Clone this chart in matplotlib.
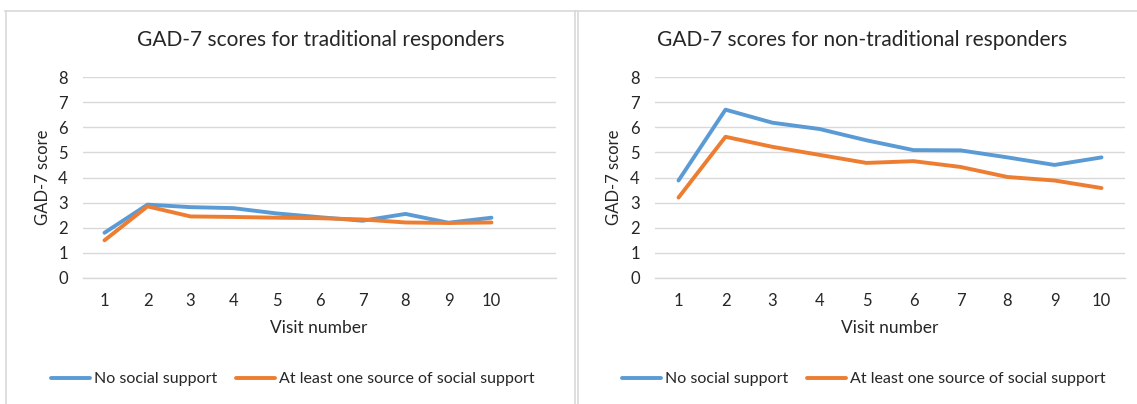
import matplotlib
matplotlib.use("Agg")
import matplotlib.pyplot as plt
from matplotlib.lines import Line2D

plt.rcParams['font.family'] = ['Lato', 'DejaVu Sans']

visits = ['1', '2', '3', '4', '5', '6', '7', '8', '9', '10']
trad_no_support = [1.8, 2.92, 2.82, 2.78, 2.57, 2.42, 2.28, 2.55, 2.2, 2.4]
trad_support = [1.5, 2.85, 2.45, 2.43, 2.4, 2.38, 2.33, 2.21, 2.19, 2.21]
nontrad_no_support = [3.88, 6.7, 6.18, 5.93, 5.48, 5.09, 5.08, 4.8, 4.5, 4.8]
nontrad_support = [3.2, 5.62, 5.22, 4.9, 4.58, 4.65, 4.42, 4.02, 3.88, 3.58]

series_labels = ['No social support', 'At least one source of social support']
titles = ['GAD-7 scores for traditional responders',
          'GAD-7 scores for non-traditional responders']
y_ticks = [0, 1, 2, 3, 4, 5, 6, 7, 8]

BLUE = '#5B9BD5'
ORANGE = '#ED7D31'
GRID = '#D9D9D9'
TXT = '#262626'

W, H = 1137, 404
fig = plt.figure(figsize=(W / 100, H / 100), dpi=100)

def fx(px):
    return px / W

def fy(py):
    return 1 - py / H

# panel borders
for xp in (5.5, 574.5, 577.5):
    fig.add_artist(Line2D([fx(xp), fx(xp)], [fy(10.5), 0], color=GRID, lw=1.2,
                          transform=fig.transFigure))
fig.add_artist(Line2D([fx(5), 1], [fy(10.5), fy(10.5)], color=GRID, lw=1.2,
                      transform=fig.transFigure))

panels = [
    dict(left=83, right=556, ncat=11, data=(trad_no_support, trad_support),
         title_x=321, xlabel_x=319, leg_x=293, ylab_x=43),
    dict(left=655, right=1125, ncat=10, data=(nontrad_no_support, nontrad_support),
         title_x=862, xlabel_x=890, leg_x=864, ylab_x=614),
]

top_px, bot_px = 77, 278
for i, p in enumerate(panels):
    ax = fig.add_axes([fx(p['left']), fy(bot_px), fx(p['right'] - p['left']),
                       (bot_px - top_px) / H])
    x = list(range(len(visits)))
    l1, = ax.plot(x, p['data'][0], color=BLUE, lw=2.8, solid_capstyle='round',
                  solid_joinstyle='round', label=series_labels[0])
    l2, = ax.plot(x, p['data'][1], color=ORANGE, lw=2.8, solid_capstyle='round',
                  solid_joinstyle='round', label=series_labels[1])
    ax.set_xlim(-0.5, p['ncat'] - 0.5)
    ax.set_ylim(0, 8)
    ax.set_yticks(y_ticks)
    ax.set_xticks(x)
    ax.set_xticklabels(visits)
    ax.yaxis.grid(True, color=GRID, lw=1.0)
    ax.set_axisbelow(True)
    for s in ('top', 'right', 'left'):
        ax.spines[s].set_visible(False)
    ax.spines['bottom'].set_color(GRID)
    ax.spines['bottom'].set_linewidth(1.0)
    ax.tick_params(axis='both', length=0, labelsize=12, labelcolor=TXT)
    ax.tick_params(axis='y', pad=11)
    ax.tick_params(axis='x', pad=10.5)
    ax.patch.set_alpha(0)

    fig.text(fx(p['ylab_x']), fy(177), 'GAD-7 score', rotation=90, ha='center',
             va='center', fontsize=12, color=TXT)
    fig.text(fx(p['title_x']), fy(40), titles[i], ha='center', va='center',
             fontsize=15, color=TXT)
    fig.text(fx(p['xlabel_x']), fy(328), 'Visit number', ha='center', va='center',
             fontsize=12.5, color=TXT)
    fig.legend(handles=[l1, l2], loc='center', bbox_to_anchor=(fx(p['leg_x']), fy(379)),
               ncol=2, frameon=False, fontsize=11.5, handlelength=2.45,
               handletextpad=0.25, columnspacing=1.15, labelcolor=TXT)

fig.savefig('out.png', dpi=100)
